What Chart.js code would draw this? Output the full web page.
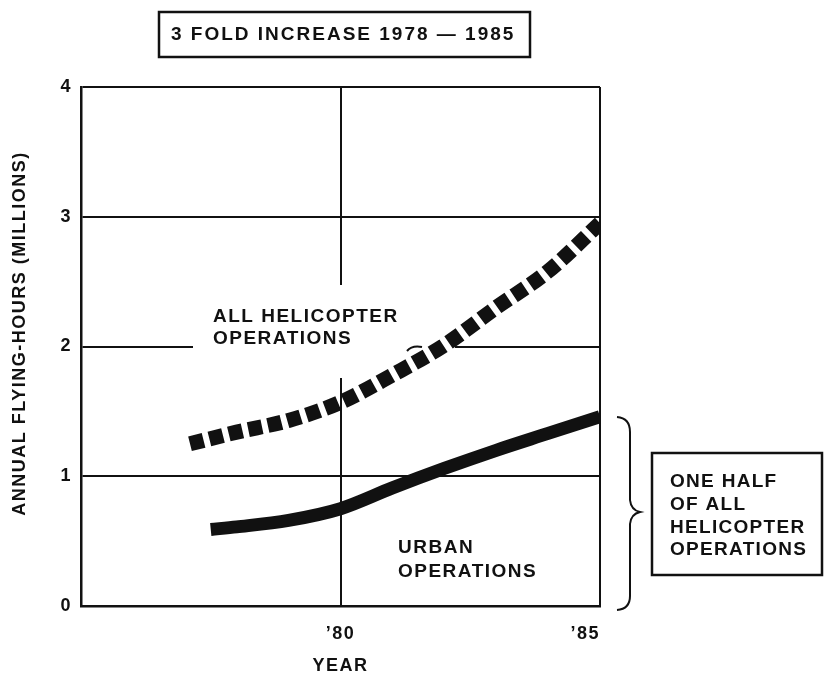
<!DOCTYPE html>
<html>
<head>
<meta charset="utf-8">
<script src="https://cdn.jsdelivr.net/npm/chart.js@4"></script>
<style>
  html, body { margin: 0; padding: 0; background: #fff; }
  #wrap { width: 824px; height: 679px; position: relative; }
</style>
</head>
<body>
<div id="wrap"><canvas id="chart"></canvas></div>
<script>
// ─── DATA ─────────────────────────────────────────────────────────────────────
const ALL_YEARS   = [1977.1, 1978, 1979, 1980, 1981, 1982, 1983, 1984, 1985];
const ALL_OPS     = [1.25, 1.34, 1.43, 1.57, 1.78, 2.01, 2.30, 2.58, 2.95];
const URBAN_YEARS = [1977.5, 1978, 1979, 1980, 1981, 1982, 1983, 1984, 1985];
const URBAN_OPS   = [0.59, 0.61, 0.66, 0.75, 0.91, 1.06, 1.20, 1.33, 1.46];

const X_TICK_LABELS = { 1980: "\u201980", 1985: "\u201985" };
const Y_TICKS = [0, 1, 2, 3, 4];

const TITLE_TEXT  = "3 FOLD INCREASE 1978 \u2014 1985";
const Y_TITLE     = "    ANNUAL FLYING-HOURS (MILLIONS)";
const ALL_LABEL   = ["ALL HELICOPTER", "OPERATIONS"];
const URBAN_LABEL = ["URBAN", "OPERATIONS"];
const NOTE_LINES  = ["ONE HALF", "OF ALL", "HELICOPTER", "OPERATIONS"];

// ─── STYLE ────────────────────────────────────────────────────────────────────
const FONT = '"Liberation Sans", Arial, sans-serif';
const INK = "#111";
const SPACING = "1.5px";
const AXIS_FONT = { family: FONT, size: 18, weight: "bold" };

// ─── DECORATIONS ──────────────────────────────────────────────────────────────
function textLines(ctx, lines, x, y0, step) {
  lines.forEach((t, i) => ctx.fillText(t, x, y0 + i * step));
}

const decorations = {
  id: "decorations",
  beforeUpdate(chart) { chart.ctx.letterSpacing = SPACING; },
  beforeDraw(chart) { chart.ctx.letterSpacing = SPACING; },
  beforeDatasetsDraw(chart) {
    // gap in the grid behind the "ALL HELICOPTER OPERATIONS" label
    const ctx = chart.ctx;
    ctx.save();
    ctx.fillStyle = "#fff";
    ctx.fillRect(193, 285, 262, 93);
    ctx.strokeStyle = INK;
    ctx.lineWidth = 2;
    ctx.beginPath();
    ctx.moveTo(407, 351);
    ctx.quadraticCurveTo(412, 345, 422, 347);
    ctx.stroke();
    ctx.restore();
  },
  afterDraw(chart) {
    const ctx = chart.ctx;
    ctx.save();
    ctx.fillStyle = INK;
    ctx.strokeStyle = INK;
    ctx.textBaseline = "middle";
    ctx.textAlign = "left";

    // title box
    ctx.lineWidth = 2.5;
    ctx.strokeRect(159, 12, 371, 45);
    ctx.font = `bold 19px ${FONT}`;
    ctx.letterSpacing = "2px";
    ctx.fillText(TITLE_TEXT, 171, 35);

    // line labels
    ctx.letterSpacing = SPACING;
    textLines(ctx, ALL_LABEL, 213, 317, 22);
    textLines(ctx, URBAN_LABEL, 398, 548, 24);

    // brace
    ctx.lineWidth = 2;
    ctx.beginPath();
    ctx.moveTo(617, 417);
    ctx.quadraticCurveTo(630, 418, 630, 432);
    ctx.lineTo(630, 500);
    ctx.quadraticCurveTo(631, 510, 640, 512);
    ctx.quadraticCurveTo(631, 514, 630, 524);
    ctx.lineTo(630, 596);
    ctx.quadraticCurveTo(630, 609, 617, 610);
    ctx.stroke();

    // note box
    ctx.lineWidth = 2.5;
    ctx.strokeRect(652, 453, 170, 122);
    ctx.letterSpacing = "1.3px";
    textLines(ctx, NOTE_LINES, 670, 482, 22.7);
    ctx.restore();
  }
};

// ─── CHART ────────────────────────────────────────────────────────────────────
const ctx = document.getElementById("chart").getContext("2d");
new Chart(ctx, {
  type: "line",
  data: {
    datasets: [
      {
        label: "All helicopter operations",
        data: ALL_YEARS.map((x, i) => ({ x, y: ALL_OPS[i] })),
        borderColor: INK,
        borderWidth: 15,
        borderDash: [14, 6],
        borderCapStyle: "butt",
        pointRadius: 0,
        tension: 0.4,
        cubicInterpolationMode: "monotone",
        clip: 0,
      },
      {
        label: "Urban operations",
        data: URBAN_YEARS.map((x, i) => ({ x, y: URBAN_OPS[i] })),
        borderColor: INK,
        borderWidth: 13,
        borderCapStyle: "butt",
        pointRadius: 0,
        tension: 0.4,
        cubicInterpolationMode: "monotone",
        clip: 0,
      },
    ],
  },
  options: {
    responsive: true,
    maintainAspectRatio: false,
    animation: false,
    events: [],
    layout: { padding: { top: 87, right: 224, left: 0, bottom: 0 } },
    scales: {
      x: {
        type: "linear",
        min: 1975, max: 1985,
        afterBuildTicks: s => { s.ticks = [1975, 1980, 1985].map(v => ({ value: v })); },
        afterFit: s => { s.height = 73; },
        grid: { color: INK, lineWidth: 2, drawTicks: false },
        border: { color: INK, width: 2.5 },
        ticks: {
          align: "inner",
          padding: 17,
          color: INK,
          font: AXIS_FONT,
          callback: v => X_TICK_LABELS[v] || "",
        },
        title: {
          display: true,
          text: "YEAR",
          color: INK,
          padding: { top: 0, bottom: 2 },
          font: AXIS_FONT,
        },
      },
      y: {
        min: 0, max: 4,
        afterBuildTicks: s => { s.ticks = Y_TICKS.map(v => ({ value: v })); },
        afterFit: s => { s.width = 81; },
        grid: { color: INK, lineWidth: 2, drawTicks: false },
        border: { color: INK, width: 2.5 },
        ticks: {
          padding: 9,
          color: INK,
          font: AXIS_FONT,
        },
        title: {
          display: true,
          text: Y_TITLE,
          color: INK,
          padding: { top: 9, bottom: 0 },
          font: AXIS_FONT,
        },
      },
    },
    plugins: {
      legend: { display: false },
      tooltip: { enabled: false },
    },
  },
  plugins: [decorations],
});
</script>
</body>
</html>
